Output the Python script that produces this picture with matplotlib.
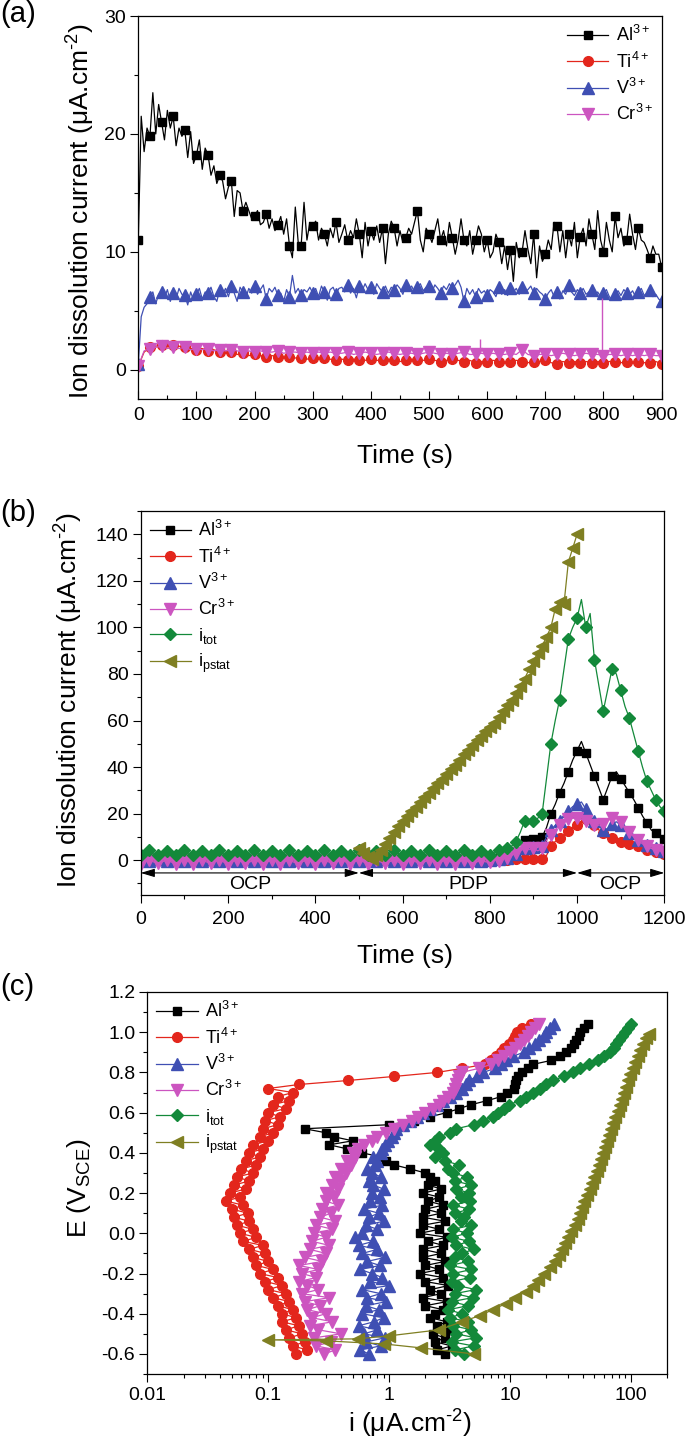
import numpy as np
import matplotlib
matplotlib.use('Agg')
import matplotlib.pyplot as plt
from matplotlib.ticker import MultipleLocator, LogLocator, FuncFormatter, NullFormatter

plt.rcParams['font.family'] = ['Liberation Sans', 'DejaVu Sans']
plt.rcParams['mathtext.fontset'] = 'custom'
plt.rcParams['mathtext.rm'] = 'Liberation Sans'
plt.rcParams['mathtext.it'] = 'Liberation Sans:italic'
plt.rcParams['mathtext.bf'] = 'Liberation Sans:bold'
plt.rcParams['axes.unicode_minus'] = False

# ---------------- panel (a): OCP, 0-900 s ----------------
t_a5 = np.arange(0, 901, 5)     # Al, V sampling
t_a10 = np.arange(0, 901, 10)   # Ti, Cr sampling

al_a = [11.0, 21.5, 18.5, 20.5, 19.8, 23.5, 20.0, 22.5, 21.0, 19.5,
        22.0, 20.5, 21.5, 19.0, 20.5, 19.8, 20.3, 18.0, 20.2, 17.5,
        18.2, 19.5, 17.0, 18.8, 18.2, 16.5, 17.3, 15.8, 16.5, 16.0,
        14.5, 15.5, 16.0, 13.0, 15.2, 15.0, 13.5, 14.2, 13.5, 12.8,
        13.0, 13.5, 12.3, 12.5, 13.2, 12.0, 12.8, 11.8, 12.3, 13.0,
        11.5, 12.8, 10.5, 9.5, 13.8, 10.8, 10.5, 14.2, 11.0, 12.5,
        12.2, 12.6, 11.0, 12.0, 11.5, 10.5, 12.0, 11.2, 12.5, 10.8,
        11.5, 12.3, 11.0, 11.8, 11.2, 12.8, 11.5, 9.5, 12.5, 10.5,
        11.8, 11.0, 12.2, 10.8, 12.0, 9.0, 11.5, 12.6, 12.0, 10.5,
        11.8, 10.8, 11.2, 12.0, 11.5, 12.5, 13.5, 11.0, 10.0, 12.0,
        11.5, 10.8, 11.8, 12.8, 11.0, 11.8, 10.5, 12.5, 11.2, 9.8,
        11.0, 12.8, 11.0, 10.5, 11.8, 9.8, 11.0, 12.2, 11.5, 10.0,
        11.0, 9.5, 10.0, 11.5, 10.8, 9.0, 10.5, 8.5, 10.2, 7.5,
        10.8, 9.5, 10.0, 11.8, 10.2, 9.0, 11.5, 7.8, 10.5, 9.2,
        9.8, 11.0, 10.2, 12.5, 12.2, 10.0, 11.8, 9.5, 11.5, 10.5,
        12.5, 9.5, 11.3, 12.0, 10.5, 12.8, 11.5, 10.2, 13.5, 11.0,
        10.0, 12.5, 11.0, 10.0, 13.0, 11.2, 12.0, 10.5, 11.0, 13.2,
        11.5, 10.2, 12.0, 11.0, 10.8, 10.2, 9.5, 10.5, 9.8, 9.8,
        8.7]

v_a = [0.5, 4.5, 5.3, 5.6, 6.2, 6.6, 5.6, 6.4, 6.6, 6.1,
       6.8, 5.8, 6.5, 6.0, 6.9, 6.4, 6.3, 5.5, 6.6, 5.9,
       6.4, 6.9, 6.0, 6.6, 6.5, 7.0, 6.2, 5.8, 6.8, 6.4,
       6.9, 6.2, 7.1, 6.5, 5.8, 7.0, 6.6, 6.1, 6.9, 6.5,
       7.1, 6.4, 6.8, 7.2, 6.0, 6.9, 6.6, 7.0, 6.3, 6.5,
       5.8, 6.8, 6.2, 8.0, 6.5, 6.9, 6.3, 6.8, 6.6, 7.0,
       6.5, 6.9, 6.2, 7.1, 6.6, 5.9, 6.8, 7.0, 6.4, 6.9,
       7.0, 6.6, 7.2, 6.5, 6.9, 6.1, 7.1, 6.7, 7.3, 6.8,
       7.0, 6.4, 7.3, 6.9, 6.6, 7.1, 6.5, 7.0, 6.8, 7.2,
       6.9, 6.4, 7.2, 6.8, 7.1, 6.6, 7.0, 7.3, 6.7, 7.0,
       7.1, 6.6, 7.2, 6.9, 6.5, 7.1, 6.8, 7.3, 6.9, 7.2,
       7.6, 7.0, 5.8, 6.9, 6.4, 6.8, 6.2, 6.9, 6.5, 6.7,
       6.3, 6.8, 6.6, 6.2, 7.0, 6.4, 6.8, 6.3, 6.9, 6.6,
       6.9, 6.4, 7.0, 6.6, 6.8, 7.1, 6.5, 6.9, 6.6, 6.4,
       6.0, 6.5, 6.8, 6.2, 6.6, 6.0, 6.7, 6.4, 7.2, 6.6,
       6.3, 6.8, 6.5, 6.9, 6.4, 6.6, 6.8, 6.3, 6.6, 6.2,
       6.5, 6.8, 6.2, 5.9, 6.4, 6.7, 6.3, 6.8, 6.5, 6.4,
       6.7, 6.2, 6.6, 6.9, 6.3, 6.5, 6.8, 6.2, 6.4, 6.0,
       5.8]

ti_a = [0.3, 1.5, 1.9, 2.0, 2.1, 2.2, 2.1, 2.0, 1.9, 1.8,
        1.7, 1.8, 1.6, 1.7, 1.5, 1.4, 1.5, 1.3, 1.4, 1.2,
        1.3, 1.2, 1.1, 1.2, 1.1, 1.0, 1.1, 1.0, 1.0, 0.9,
        1.0, 0.9, 1.0, 0.9, 0.8, 0.9, 0.8, 0.9, 0.8, 0.8,
        0.9, 0.8, 0.8, 0.9, 0.8, 0.7, 0.8, 0.9, 0.8, 0.8,
        0.9, 0.8, 0.7, 0.8, 0.9, 0.8, 0.7, 0.8, 0.6, 0.7,
        0.7, 0.8, 0.7, 0.6, 0.7, 0.8, 0.7, 0.6, 0.7, 0.7,
        0.8, 0.6, 0.5, 0.7, 0.6, 0.7, 0.6, 0.7, 0.6, 0.7,
        0.6, 0.7, 0.7, 0.6, 0.7, 0.6, 0.7, 0.6, 0.6, 0.7,
        0.5]

cr_a = [0.3, 1.6, 1.8, 1.9, 2.0, 1.8, 1.9, 1.8, 1.9, 1.7,
        1.8, 1.7, 1.8, 1.6, 1.7, 1.6, 1.7, 1.6, 1.5, 1.6,
        1.5, 1.6, 1.5, 1.5, 1.6, 1.4, 1.5, 1.5, 1.4, 1.5,
        1.4, 1.5, 1.4, 1.5, 1.4, 1.4, 1.5, 1.3, 1.4, 1.5,
        1.4, 1.3, 1.4, 1.5, 1.4, 1.3, 1.4, 1.4, 1.3, 1.4,
        1.5, 1.4, 1.3, 1.4, 1.3, 1.4, 1.5, 1.3, 1.3, 1.4,
        1.3, 1.4, 1.3, 1.3, 1.4, 1.3, 1.7, 1.3, 1.2, 1.3,
        1.3, 1.2, 1.3, 1.4, 1.3, 1.2, 1.3, 1.4, 1.3, 1.3,
        1.2, 1.3, 1.3, 1.2, 1.3, 1.2, 1.3, 1.2, 1.3, 1.2,
        1.2]

# two single-sample spikes on the Cr signal
cr_spike_t = [588, 797]
cr_spike_lo = [1.4, 1.3]
cr_spike_hi = [2.6, 6.1]

# ---------------- panel (b): OCP / PDP / OCP, 0-1200 s ----------------
t_b = np.arange(0, 1201, 10)

al_b = [0.5, 0.8, 0.4, 0.9, 0.5, 0.7, 0.4, 0.9, 0.6, 0.8,
        0.5, 0.9, 0.4, 0.8, 0.5, 0.7, 0.4, 0.9, 0.5, 0.8,
        0.6, 0.7, 0.4, 0.9, 0.5, 0.8, 0.4, 0.7, 0.5, 0.9,
        0.6, 0.8, 0.4, 0.9, 0.5, 0.7, 0.5, 0.8, 0.4, 0.9,
        0.5, 0.8, 0.4, 0.7, 0.5, 0.9, 0.4, 0.8, 0.6, 0.7,
        0.5, 0.9, 0.5, 0.8, 0.4, 0.7, 0.5, 0.9, 0.4, 0.8,
        0.5, 0.7, 0.4, 0.9, 0.5, 0.8, 0.6, 0.7, 0.4, 0.9,
        0.5, 0.8, 0.5, 0.9, 0.6, 0.8, 0.5, 1.0, 0.6, 0.9,
        0.7, 1.0, 0.8, 1.2, 1.5, 2.0, 3.5, 5.0, 8.5, 9.0,
        9.0, 9.5, 10.0, 14.0, 20.0, 24.0, 29.0, 33.0, 38.0, 43.0,
        47.0, 51.0, 46.0, 41.0, 36.0, 31.0, 26.0, 31.0, 36.0, 38.0,
        35.0, 32.0, 29.0, 26.0, 22.6, 19.0, 16.0, 13.0, 11.5, 10.4,
        9.0]

ti_b = [0.0, -0.3, 0.1, -0.4, 0.0, -0.2, 0.1, -0.3, 0.0, -0.4,
        0.1, -0.3, 0.0, -0.2, 0.1, -0.4, 0.0, -0.3, 0.1, -0.2,
        0.0, -0.4, 0.1, -0.3, 0.0, -0.2, 0.1, -0.3, 0.0, -0.4,
        0.1, -0.2, 0.0, -0.3, 0.1, -0.4, 0.0, -0.2, 0.1, -0.3,
        0.0, -0.4, 0.1, -0.2, 0.0, -0.3, 0.1, -0.4, 0.0, -0.2,
        0.1, -0.3, 0.0, -0.4, 0.1, -0.2, 0.0, -0.3, 0.1, -0.4,
        0.0, -0.2, 0.1, -0.3, 0.0, -0.4, 0.1, -0.2, 0.0, -0.3,
        0.1, -0.4, 0.0, -0.2, 0.1, -0.3, 0.0, -0.4, 0.1, -0.2,
        0.0, 0.2, 0.1, 0.3, 0.2, 0.4, 0.3, 0.5, 0.5, 0.6,
        0.5, 0.8, 0.6, 2.0, 6.0, 8.0, 9.5, 11.0, 12.5, 14.0,
        15.0, 16.5, 17.5, 16.5, 15.0, 13.0, 11.5, 10.0, 9.5, 8.5,
        8.0, 7.5, 7.0, 6.5, 6.0, 5.2, 4.5, 4.0, 3.5, 3.0,
        2.5]

v_b = [0.2, -0.5, -0.3, -0.6, 0.3, -0.4, -0.2, -0.5, 0.2, -0.6,
       -0.3, -0.5, 0.2, -0.4, -0.2, -0.6, 0.3, -0.5, -0.3, -0.4,
       0.2, -0.6, -0.2, -0.5, 0.3, -0.4, -0.3, -0.6, 0.2, -0.5,
       -0.2, -0.4, 0.3, -0.6, -0.3, -0.5, 0.2, -0.4, -0.2, -0.6,
       0.3, -0.5, -0.3, -0.4, 0.2, -0.6, -0.2, -0.5, 0.3, -0.4,
       -0.3, -0.6, 0.2, -0.5, -0.2, -0.4, 0.3, -0.6, -0.3, -0.5,
       0.2, -0.4, -0.2, -0.6, 0.3, -0.5, -0.3, -0.4, 0.2, -0.6,
       -0.2, -0.5, 0.3, -0.4, -0.3, -0.6, 0.2, -0.5, -0.2, -0.4,
       0.2, 0.4, 0.5, 0.8, 1.0, 1.5, 2.5, 3.5, 5.0, 5.0,
       5.5, 5.0, 6.0, 10.0, 13.0, 15.0, 17.0, 19.0, 21.0, 23.0,
       24.0, 25.0, 22.0, 19.0, 17.0, 14.5, 13.0, 13.5, 15.5, 16.5,
       15.0, 13.0, 11.5, 10.0, 8.5, 7.5, 6.5, 5.5, 5.0, 4.5,
       4.0]

cr_b = [-1.5, -0.7, 0.0, -0.8, -1.4, -0.7, 0.1, -0.8, -1.5, -0.6,
        0.0, -0.7, -1.5, -0.8, 0.1, -0.7, -1.4, -0.6, 0.0, -0.8,
        -1.5, -0.7, 0.0, -0.6, -1.4, -0.8, 0.1, -0.7, -1.5, -0.8,
        0.0, -0.6, -1.5, -0.7, 0.1, -0.8, -1.4, -0.7, 0.0, -0.6,
        -1.5, -0.8, 0.0, -0.7, -1.4, -0.6, 0.1, -0.8, -1.5, -0.7,
        0.0, -0.7, -1.5, -0.6, 0.1, -0.8, -1.4, -0.7, 0.0, -0.8,
        -1.5, -0.6, 0.0, -0.7, -1.4, -0.8, 0.1, -0.7, -1.5, -0.6,
        0.0, -0.8, -1.5, -0.7, 0.1, -0.6, -1.4, -0.8, 0.0, -0.7,
        -1.0, 0.3, -0.2, 0.8, 1.0, 2.0, 3.0, 4.0, 5.0, 4.5,
        5.0, 4.0, 5.0, 8.5, 11.0, 13.0, 15.0, 16.5, 17.5, 18.0,
        18.0, 17.5, 17.0, 16.0, 15.0, 15.0, 15.5, 17.0, 18.0, 18.5,
        16.5, 14.0, 12.0, 10.0, 8.5, 7.0, 6.0, 5.0, 4.5, 4.0,
        3.5]

tot_b = [2.0, 3.0, 4.2, 3.0, 2.0, 3.2, 4.0, 3.0, 2.1, 3.1,
         4.2, 3.0, 2.0, 3.1, 4.1, 3.0, 2.0, 3.2, 4.2, 3.0,
         2.1, 3.0, 4.0, 3.1, 2.0, 3.0, 4.2, 3.0, 2.0, 3.2,
         4.1, 3.0, 2.0, 3.1, 4.2, 3.0, 2.1, 3.0, 4.0, 3.1,
         2.0, 3.0, 4.2, 3.2, 2.0, 3.0, 4.1, 3.0, 2.0, 3.1,
         4.2, 3.0, 2.0, 3.0, 4.0, 3.1, 2.1, 3.0, 4.2, 3.0,
         2.0, 3.2, 4.1, 3.0, 2.0, 3.0, 4.2, 3.1, 2.0, 3.0,
         4.0, 3.0, 2.1, 3.2, 4.2, 3.0, 2.0, 3.1, 4.1, 3.0,
         2.0, 3.0, 4.2, 4.5, 5.0, 6.0, 8.0, 12.0, 17.0, 17.5,
         17.0, 18.0, 20.0, 35.0, 50.0, 60.0, 69.0, 82.0, 95.0, 100.0,
         104.0, 112.0, 100.0, 106.0, 86.0, 75.0, 64.0, 73.0, 82.0, 80.0,
         73.0, 66.0, 61.0, 54.0, 47.0, 40.0, 34.0, 30.0, 26.0, 23.0,
         21.0]

t_pstat = np.arange(500, 1001, 10)
pstat_b = [5.0, 3.0, 1.5, 0.5, 2.0, 4.5, 7.0, 9.5, 12.0, 14.5,
           17.0, 19.0, 21.0, 23.0, 25.0, 27.0, 29.0, 31.0, 33.0, 35.0,
           37.0, 39.0, 41.0, 43.0, 45.5, 47.5, 49.5, 51.5, 53.5, 55.5,
           57.0, 59.0, 61.5, 64.0, 66.5, 69.0, 72.0, 75.0, 78.0, 82.0,
           85.5, 89.0, 92.0, 96.0, 100.0, 108.0, 111.0, 110.0, 128.0, 134.0,
           140.0]

# step boundaries (s) and names for the arrows under panel (b)
phase_edges = [0, 500, 1000, 1200]
phase_names = ['OCP', 'PDP', 'OCP']

# ---------------- panel (c): current vs potential ----------------
E_c = np.linspace(-0.60, 1.04, 83)

al_c = [2.9, 2.5, 3.3, 2.4, 2.9, 2.3, 3.2, 2.5, 3.0, 2.2,
        2.4, 2.8, 2.0, 3.0, 1.9, 2.7, 2.2, 3.1, 2.0, 2.8,
        1.8, 2.6, 2.0, 2.9, 1.9, 2.7, 1.9, 2.8, 2.1, 3.0,
        1.8, 2.6, 1.9, 2.9, 1.9, 2.7, 2.0, 2.8, 2.1, 2.6,
        1.9, 2.7, 2.1, 2.4, 2.2, 2.0, 1.5, 1.1, 0.95, 0.85,
        0.6, 0.45, 0.32, 0.5, 0.35, 0.3, 0.2, 1.0, 1.6, 2.2,
        3.0, 3.8, 4.8, 6.5, 8.5, 9.5, 10.7, 11.0, 11.3, 11.6,
        12.5, 14.0, 15.5, 22.0, 26.0, 29.0, 32.0, 34.0, 35.0, 37.0,
        38.0, 41.0, 44.0]

ti_c = [0.17, 0.21, 0.16, 0.2, 0.15, 0.19, 0.14, 0.18, 0.13, 0.17,
        0.13, 0.16, 0.12, 0.15, 0.11, 0.14, 0.1, 0.13, 0.095, 0.12,
        0.085, 0.11, 0.08, 0.1, 0.075, 0.095, 0.07, 0.09, 0.062, 0.08,
        0.058, 0.075, 0.055, 0.07, 0.052, 0.068, 0.05, 0.062, 0.045, 0.058,
        0.048, 0.065, 0.052, 0.07, 0.055, 0.075, 0.06, 0.08, 0.065, 0.085,
        0.07, 0.09, 0.075, 0.1, 0.085, 0.11, 0.09, 0.12, 0.095, 0.125,
        0.1, 0.14, 0.11, 0.15, 0.12, 0.16, 0.1, 0.18, 0.46, 1.1,
        2.5, 4.0, 6.2, 7.0, 7.6, 8.4, 9.0, 9.9, 10.5, 11.0,
        11.5, 12.5, 14.8]

v_c = [0.68, 0.58, 0.85, 0.65, 0.92, 0.62, 0.8, 0.56, 0.75, 0.9,
       0.6, 0.82, 0.64, 0.95, 0.66, 0.85, 0.6, 1.0, 0.7, 0.88,
       0.72, 0.58, 0.84, 0.66, 0.92, 0.6, 0.8, 0.56, 0.74, 0.52,
       0.6, 0.8, 0.64, 0.9, 0.68, 0.82, 0.62, 0.88, 0.7, 0.84,
       0.72, 0.9, 0.74, 0.68, 0.86, 0.72, 0.66, 0.76, 0.8, 0.74,
       0.85, 0.88, 0.92, 0.98, 1.05, 1.1, 1.15, 1.3, 1.5, 1.7,
       1.9, 2.2, 2.5, 2.8, 3.2, 3.6, 4.0, 4.3, 4.6, 5.3,
       6.0, 7.5, 8.5, 9.2, 10.5, 13.0, 14.5, 16.0, 17.5, 19.0,
       20.0, 21.5, 23.0]

cr_c = [0.29, 0.36, 0.25, 0.33, 0.24, 0.4, 0.26, 0.22, 0.34, 0.23,
        0.3, 0.21, 0.27, 0.2, 0.32, 0.19, 0.26, 0.21, 0.18, 0.25,
        0.19, 0.26, 0.18, 0.28, 0.2, 0.3, 0.22, 0.32, 0.23, 0.3,
        0.24, 0.34, 0.25, 0.36, 0.27, 0.33, 0.28, 0.38, 0.3, 0.35,
        0.3, 0.38, 0.34, 0.4, 0.36, 0.44, 0.4, 0.48, 0.45, 0.52,
        0.5, 0.55, 0.62, 0.72, 0.8, 0.95, 1.1, 1.3, 1.55, 1.75,
        2.0, 2.3, 2.6, 2.8, 3.1, 3.4, 3.5, 3.6, 3.7, 3.8,
        4.0, 5.5, 7.0, 8.0, 9.0, 10.0, 11.0, 12.0, 13.0, 14.0,
        15.0, 16.0, 17.5]

tot_c = [4.2, 3.5, 5.0, 3.3, 5.2, 3.6, 4.8, 3.4, 4.5, 3.2,
         4.0, 3.1, 4.5, 3.3, 4.9, 3.5, 5.2, 3.7, 3.3, 4.7,
         3.4, 4.8, 3.2, 4.5, 3.5, 4.0, 5.0, 3.6, 4.6, 3.3,
         4.4, 3.4, 4.8, 3.9, 4.2, 3.5, 4.6, 3.4, 4.7, 3.9,
         4.6, 3.6, 4.8, 3.5, 4.4, 3.4, 3.1, 3.8, 2.9, 2.4,
         2.8, 2.6, 2.2, 2.4, 2.6, 3.2, 3.6, 5.0, 6.0, 7.2,
         8.0, 9.0, 9.9, 12.0, 13.6, 15.5, 17.7, 20.0, 22.6, 28.0,
         33.0, 38.0, 45.0, 53.0, 60.0, 67.0, 72.0, 76.0, 80.0, 85.0,
         90.0, 95.0, 100.0]

E_pstat = [-0.60, -0.57, -0.55, -0.535, -0.53, -0.525, -0.51, -0.48, -0.44, -0.41,
           -0.38, -0.35, -0.32, -0.29, -0.26, -0.23, -0.20, -0.17, -0.14, -0.11,
           -0.08, -0.05, -0.02, 0.01, 0.04, 0.07, 0.10, 0.13, 0.16, 0.19,
           0.22, 0.25, 0.28, 0.31, 0.34, 0.37, 0.40, 0.43, 0.46, 0.49,
           0.52, 0.55, 0.58, 0.61, 0.64, 0.67, 0.70, 0.73, 0.76, 0.79,
           0.82, 0.85, 0.88, 0.91, 0.94, 0.97, 0.99]
pstat_c = [5.0, 1.85, 0.9, 0.3, 0.1, 0.55, 1.0, 2.6, 4.0, 5.6,
           7.2, 9.2, 11.0, 13.5, 15.5, 17.2, 19.0, 21.5, 23.5, 25.5,
           27.0, 28.5, 30.0, 32.0, 34.5, 36.5, 38.0, 39.5, 41.0, 43.0,
           45.5, 48.0, 50.0, 52.0, 54.5, 56.5, 59.0, 61.0, 63.5, 66.0,
           68.0, 71.0, 74.0, 78.0, 81.0, 84.0, 87.5, 91.0, 95.0, 99.0,
           104.0, 109.0, 115.0, 120.0, 126.0, 133.0, 140.0]

labels = {'Al': r'Al$^{3+}$', 'Ti': r'Ti$^{4+}$', 'V': r'V$^{3+}$',
          'Cr': r'Cr$^{3+}$', 'tot': r'i$_{\mathrm{tot}}$',
          'pstat': r'i$_{\mathrm{pstat}}$'}

# colour, marker, marker size
styles = {'Al': ('#000000', 's', 6.3),
          'Ti': ('#e3261c', 'o', 7.0),
          'V': ('#3f4fb3', '^', 8.0),
          'Cr': ('#cc55c0', 'v', 8.0),
          'tot': ('#13893a', 'D', 6.2),
          'pstat': ('#7f7f22', '<', 8.0)}

ylab = r'Ion dissolution current (μA.cm$^{\text{-2}}$)'


def draw(ax, x, y, key, every=1):
    c, m, ms = styles[key]
    ax.plot(x, y, color=c, lw=0.9, marker=m, ms=ms, mfc=c, mec=c,
            markevery=every, label=labels[key])


def style_axes(ax, xdir='out'):
    ax.tick_params(which='both', top=False, right=False, labelsize=14, width=0.8)
    ax.tick_params(which='major', length=5.5)
    ax.tick_params(which='minor', length=3.2)
    ax.tick_params(axis='y', which='both', direction='out', pad=3.2)
    ax.tick_params(axis='x', which='both', direction=xdir)
    for s in ax.spines.values():
        s.set_linewidth(0.9)


def add_legend(ax, loc):
    ax.legend(loc=loc, frameon=False, fontsize=13, numpoints=1,
              handlelength=2.3, handletextpad=0.4, labelspacing=0.35,
              borderpad=0.2, borderaxespad=0.3)


fig = plt.figure(figsize=(6.85, 14.45), dpi=100)

# ---- (a) ----
ax1 = fig.add_axes([0.2019, 0.7237, 0.764, 0.2652])
draw(ax1, t_a5, al_a, 'Al', 4)
draw(ax1, t_a10, ti_a, 'Ti', 2)
draw(ax1, t_a5, v_a, 'V', 4)
draw(ax1, t_a10, cr_a, 'Cr', 2)
ax1.vlines(cr_spike_t, cr_spike_lo, cr_spike_hi, color=styles['Cr'][0], lw=1.0)
ax1.set_xlim(0, 900)
ax1.set_ylim(-2.5, 30)
ax1.xaxis.set_major_locator(MultipleLocator(100))
ax1.xaxis.set_minor_locator(MultipleLocator(50))
ax1.yaxis.set_major_locator(MultipleLocator(10))
ax1.yaxis.set_minor_locator(MultipleLocator(5))
style_axes(ax1, xdir='in')
ax1.tick_params(axis='x', pad=5.5)
ax1.set_xlabel('Time (s)', fontsize=19)
ax1.set_ylabel(ylab, fontsize=19)
ax1.xaxis.set_label_coords(0.51, -0.117)
ax1.yaxis.set_label_coords(-0.079, 0.491)
add_legend(ax1, 'upper right')

# ---- (b) ----
ax2 = fig.add_axes([0.2054, 0.3806, 0.7644, 0.2657])
draw(ax2, t_b, al_b, 'Al', 2)
draw(ax2, t_b, ti_b, 'Ti', 2)
draw(ax2, t_b, v_b, 'V', 2)
draw(ax2, t_b, cr_b, 'Cr', 2)
draw(ax2, t_b, tot_b, 'tot', 2)
draw(ax2, t_pstat, pstat_b, 'pstat', 1)
for k, name in enumerate(phase_names):
    ax2.annotate('', xy=(phase_edges[k], -5.5), xytext=(phase_edges[k + 1], -5.5),
                 arrowprops=dict(arrowstyle='<|-|>,head_length=0.6,head_width=0.18',
                                 color='k', lw=0.8, shrinkA=0, shrinkB=0,
                                 mutation_scale=14))
    ax2.text((phase_edges[k] + phase_edges[k + 1]) / 2, -10.3, name,
             fontsize=14, ha='center', va='center')
ax2.set_xlim(0, 1200)
ax2.set_ylim(-15, 150)
ax2.xaxis.set_major_locator(MultipleLocator(200))
ax2.xaxis.set_minor_locator(MultipleLocator(100))
ax2.yaxis.set_major_locator(MultipleLocator(20))
ax2.yaxis.set_minor_locator(MultipleLocator(10))
style_axes(ax2)
ax2.tick_params(axis='x', pad=5.8)
ax2.set_xlabel('Time (s)', fontsize=19)
ax2.set_ylabel(ylab, fontsize=19)
ax2.xaxis.set_label_coords(0.505, -0.128)
ax2.yaxis.set_label_coords(-0.106, 0.509)
add_legend(ax2, 'upper left')

# ---- (c) ----
ax3 = fig.add_axes([0.2150, 0.0491, 0.7591, 0.2644])
draw(ax3, al_c, E_c, 'Al')
draw(ax3, ti_c, E_c, 'Ti')
draw(ax3, v_c, E_c, 'V')
draw(ax3, cr_c, E_c, 'Cr')
draw(ax3, tot_c, E_c, 'tot')
draw(ax3, pstat_c, E_pstat, 'pstat')
ax3.set_xscale('log')
ax3.set_xlim(0.01, 200)
ax3.set_ylim(-0.7, 1.2)
ax3.xaxis.set_major_locator(LogLocator(base=10, numticks=10))
ax3.xaxis.set_minor_locator(LogLocator(base=10, subs=np.arange(2, 10), numticks=20))
ax3.xaxis.set_major_formatter(FuncFormatter(lambda v, p: '{:g}'.format(v)))
ax3.xaxis.set_minor_formatter(NullFormatter())
ax3.yaxis.set_major_locator(MultipleLocator(0.2))
ax3.yaxis.set_minor_locator(MultipleLocator(0.1))
ax3.yaxis.set_major_formatter(FuncFormatter(lambda v, p: '%.1f' % v))
style_axes(ax3)
ax3.tick_params(axis='x', pad=4.0)
ax3.set_xlabel(r'i (μA.cm$^{\text{-2}}$)', fontsize=19)
ax3.set_ylabel(r'E (V$_{\mathrm{SCE}}$)', fontsize=19)
ax3.xaxis.set_label_coords(0.505, -0.089)
ax3.yaxis.set_label_coords(-0.104, 0.487)
add_legend(ax3, 'upper left')

# panel letters
fig.text(0.0, 1.0, '(a)', fontsize=21, ha='left', va='top')
fig.text(0.0, 0.6547, '(b)', fontsize=21, ha='left', va='top')
fig.text(0.0, 0.3266, '(c)', fontsize=21, ha='left', va='top')

fig.savefig('out.png', dpi=100)
